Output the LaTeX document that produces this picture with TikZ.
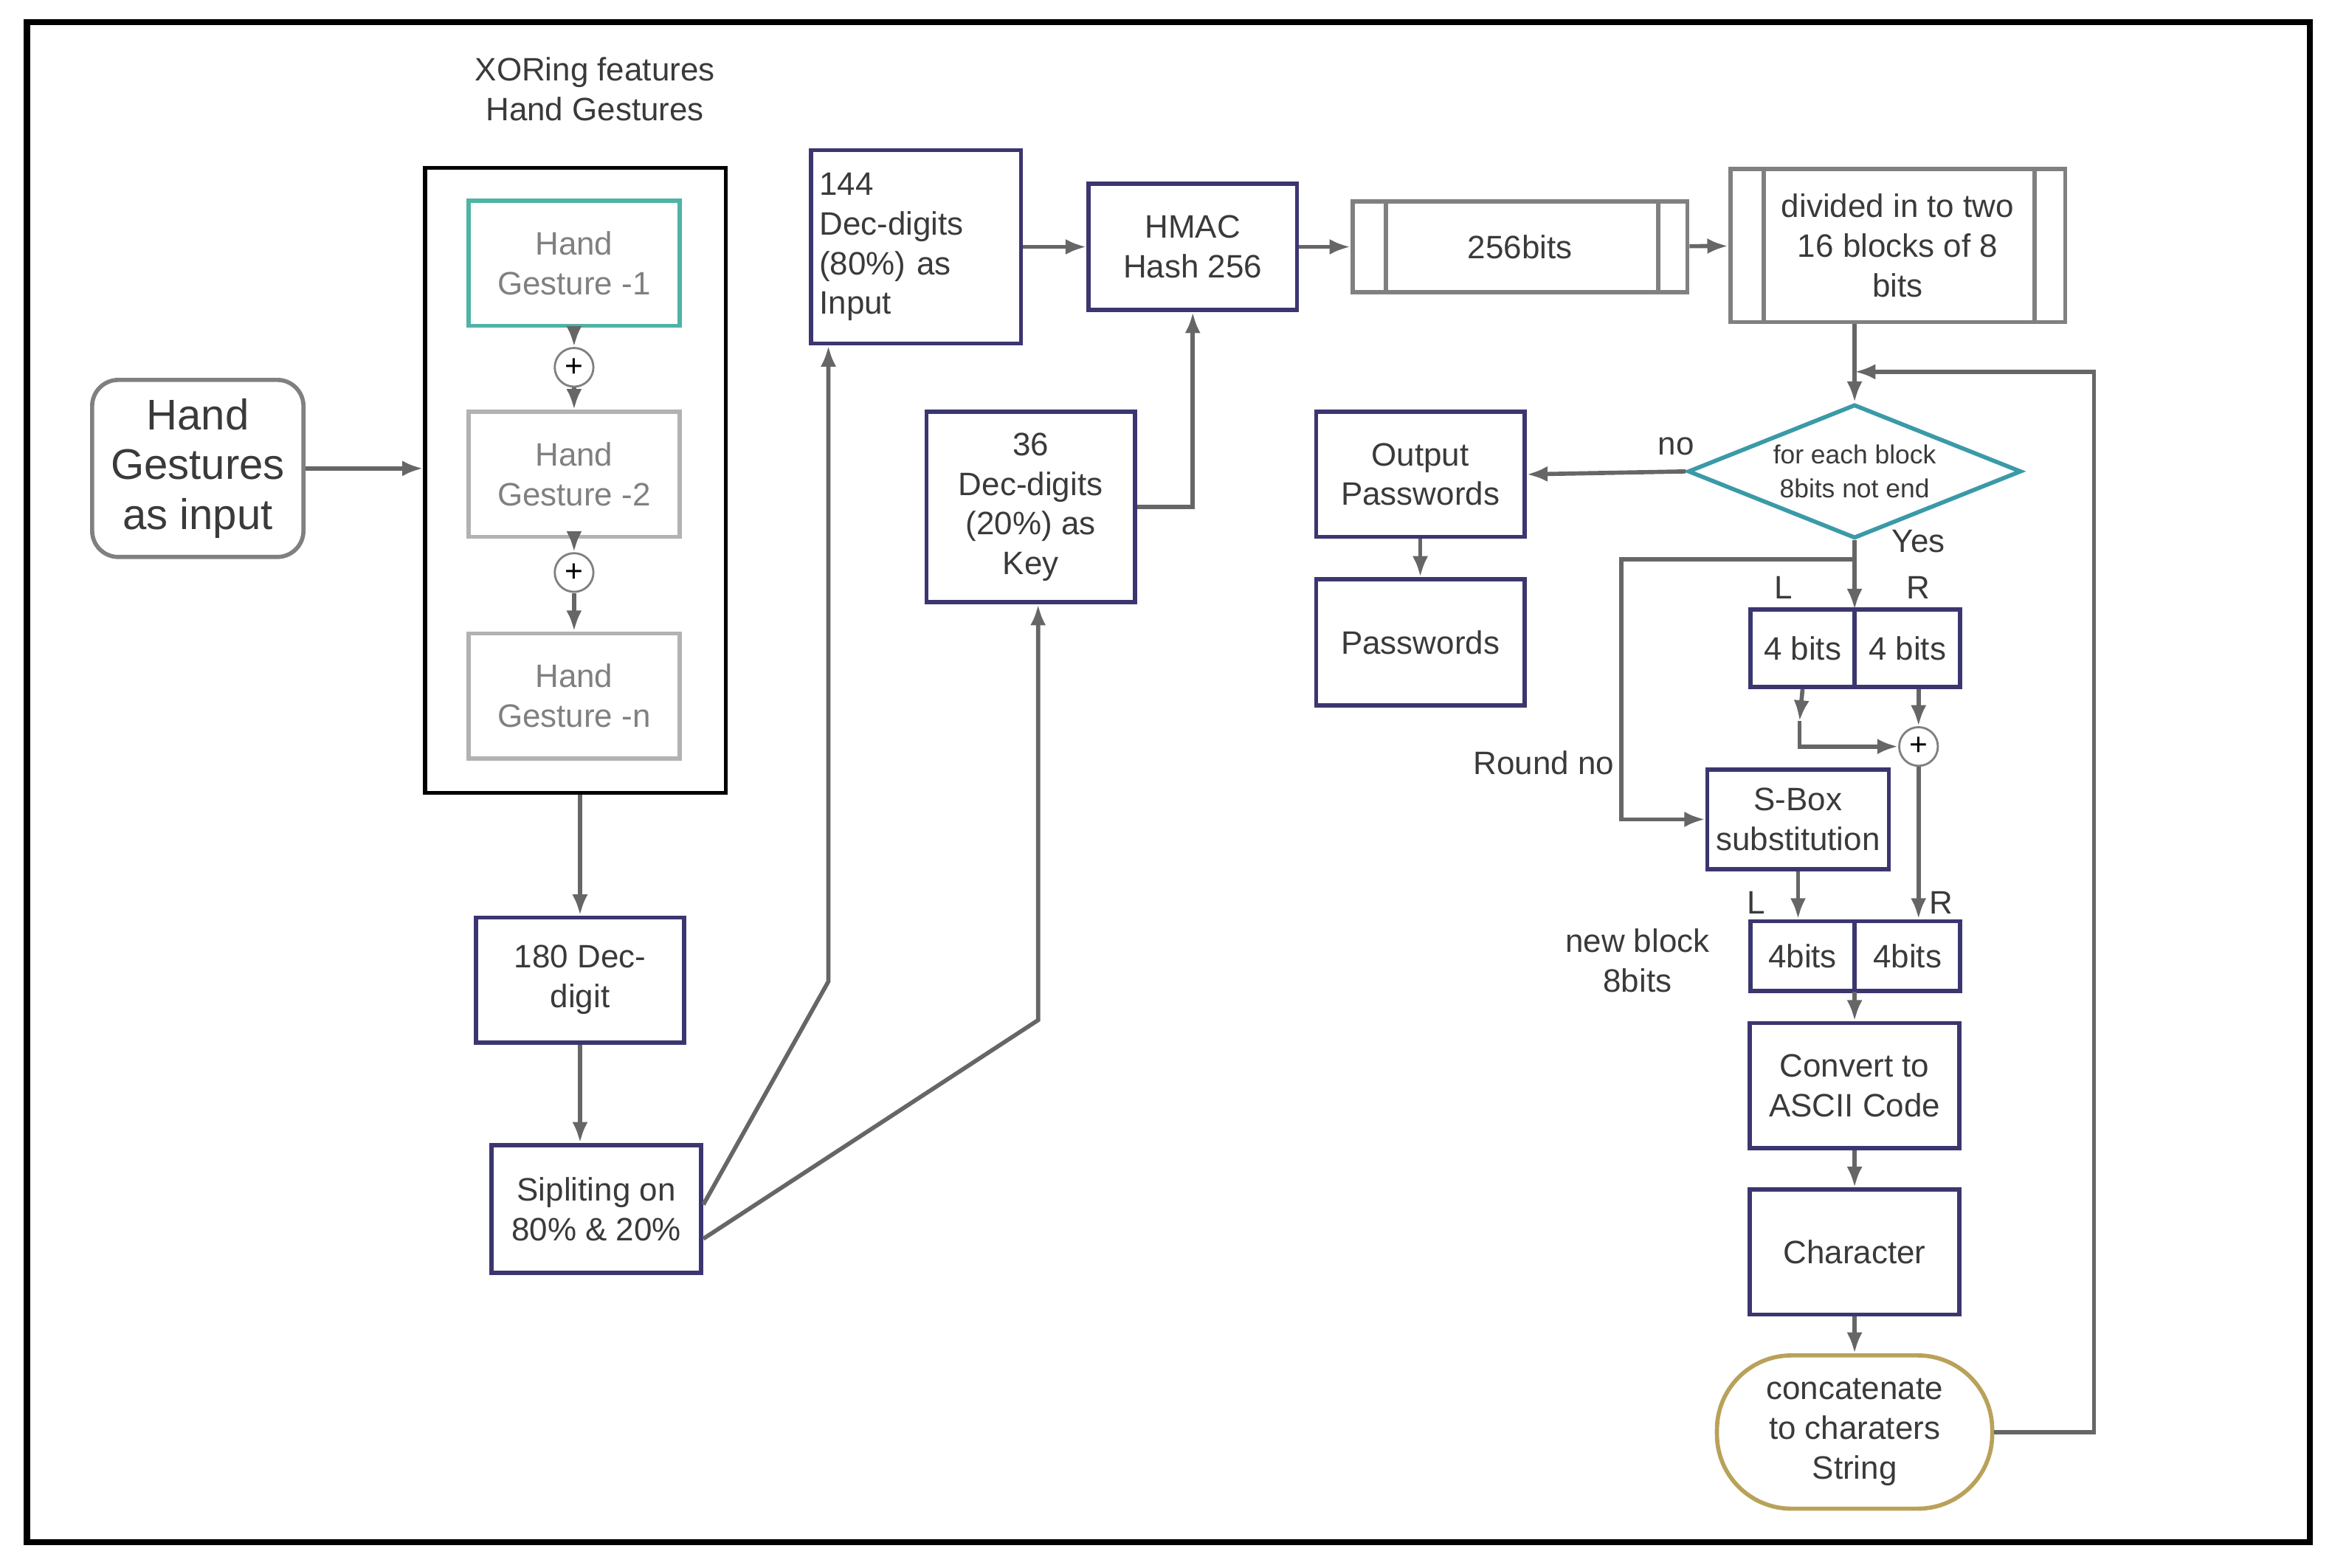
\documentclass[tikz,border=0pt]{standalone}
\usepackage{fontspec}
\setmainfont{Liberation Sans}
\usetikzlibrary{arrows.meta}
\usetikzlibrary{calc}
\usetikzlibrary{shapes.geometric}
\definecolor{boxc}{HTML}{3B3670}
\definecolor{txtc}{HTML}{3A3A3A}
\definecolor{teal}{HTML}{4FB3A6}
\definecolor{olive}{HTML}{B8A25A}
\definecolor{diac}{HTML}{3A9AA8}
\tikzset{
  blk/.style={draw=boxc,thick,rectangle,inner sep=0pt,align=center,text=txtc,font=\fontsize{6.2}{7.6}\selectfont},
  hg/.style={draw=gray!60,thick,rectangle,minimum width=1.42cm,minimum height=0.84cm,align=center,text=gray,font=\fontsize{6.2}{7.6}\selectfont},
  xorc/.style={draw=gray,circle,minimum size=0.26cm,inner sep=0pt,font=\fontsize{6}{6}\selectfont},
  lbl/.style={text=txtc,align=center,font=\fontsize{6.2}{7.6}\selectfont},
  con/.style={draw=gray!80!black,thick,-{Latex[length=4pt,width=3pt]}},
}
\begin{document}
\begin{tikzpicture}[x=0.01cm,y=-0.01cm]
	\useasboundingbox (0,0) rectangle (1568,1054);
	\draw[line width=1.2pt] (18,15) rectangle (1553,1037);
	\node [lbl] (title) at (400,60) {XORing features\\Hand Gestures};
	\node [draw=gray,thick,rounded corners=5pt,minimum width=1.42cm,minimum height=1.19cm,align=center,text=txtc,font=\fontsize{8.2}{9.5}\selectfont] (input) at (133,315) {Hand\\Gestures\\as input};
	\node [draw=black,thick,minimum width=2.02cm,minimum height=4.2cm] (group) at (387,323) {};
	\node [hg,draw=teal] (hg1) at (386,177) {Hand\\Gesture -1};
	\node [xorc] (x1) at (386,247) {+};
	\node [hg] (hg2) at (386,319) {Hand\\Gesture -2};
	\node [xorc] (x2) at (386,385) {+};
	\node [hg] (hgn) at (386,468) {Hand\\Gesture -n};
	\node [blk,minimum width=1.4cm,minimum height=0.84cm] (dec) at (390,659) {180 Dec-\\digit};
	\node [blk,minimum width=1.41cm,minimum height=0.86cm] (split) at (401,813) {Sipliting on\\80\% \& 20\%};
	\node [blk,minimum width=1.41cm,minimum height=1.3cm,align=left,text width=1.3cm] (inp) at (616,166) {144\\Dec-digits\\(80\%) as\\Input};
	\node [blk,minimum width=1.4cm,minimum height=0.85cm] (hmac) at (802,166) {HMAC\\Hash 256};
	\node [blk,minimum width=1.4cm,minimum height=1.28cm] (key) at (693,341) {36\\Dec-digits\\(20\%) as\\Key};
	\node [draw=gray,thick,minimum width=2.25cm,minimum height=0.61cm,align=center,text=txtc,font=\fontsize{6.2}{7.6}\selectfont] (bits) at (1022,166) {256bits};
	\draw[gray,thick] (932,135) -- (932,196) (1115,135) -- (1115,196);
	\node [draw=gray,thick,minimum width=2.25cm,minimum height=1.03cm,align=center,text=txtc,font=\fontsize{6.2}{7.6}\selectfont] (div) at (1276,165) {divided in to two\\16 blocks of 8\\bits};
	\draw[gray,thick] (1186,114) -- (1186,217) (1368,114) -- (1368,217);
	\node [diamond,draw=diac,thick,aspect=2.5,minimum width=2.24cm,minimum height=0.9cm,inner sep=0pt,align=center,text=txtc,font=\fontsize{5}{6.4}\selectfont] (dia) at (1247,317) {for each block\\8bits not end};
	\node [blk,minimum width=1.4cm,minimum height=0.84cm] (outp) at (955,319) {Output\\Passwords};
	\node [blk,minimum width=1.4cm,minimum height=0.85cm] (pwd) at (955,432) {Passwords};
	\node [blk,minimum width=0.7cm,minimum height=0.52cm] (bl) at (1212,436) {4 bits};
	\node [blk,minimum width=0.71cm,minimum height=0.52cm] (br) at (1282.5,436) {4 bits};
	\node [xorc] (x3) at (1290,502) {+};
	\node [blk,minimum width=1.22cm,minimum height=0.67cm] (sbox) at (1209,551) {S-Box\\substitution};
	\node [blk,minimum width=0.7cm,minimum height=0.47cm] (nl) at (1212,643) {4bits};
	\node [blk,minimum width=0.71cm,minimum height=0.47cm] (nr) at (1282.5,643) {4bits};
	\node [blk,minimum width=1.41cm,minimum height=0.84cm] (conv) at (1247,730) {Convert to\\ASCII Code};
	\node [blk,minimum width=1.41cm,minimum height=0.84cm] (chr) at (1247,842) {Character};
	\node [draw=olive,thick,rounded corners=0.5cm,minimum width=1.85cm,minimum height=1.03cm,align=center,text=txtc,font=\fontsize{6.2}{7.6}\selectfont] (cat) at (1247,963) {concatenate\\to charaters\\String};
	\coordinate (lp) at (1408,250);
	\coordinate (rn) at (1090,376);
	% labels
	\node [lbl] at (1127,300) {no};
	\node [lbl] at (1290,364) {Yes};
	\node [lbl] at (1199,395) {L};
	\node [lbl] at (1290,395) {R};
	\node [lbl] at (1038,513) {Round no};
	\node [lbl] at (1181,607) {L};
	\node [lbl] at (1305,607) {R};
	\node [lbl] at (1101,646) {new block\\8bits};
	% connectors
	\draw [con] (input.east) -- (group.west |- input.east);
	\draw [con] (hg1) -- (x1);
	\draw [con] (x1) -- (hg2);
	\draw [con] (hg2) -- (x2);
	\draw [con] (x2) -- (hgn);
	\draw [con] (group.south -| dec) -- (dec);
	\draw [con] (dec) -- (split.north -| dec);
	\draw [con] ($(split.east)+(0,-3)$) -- (557,660) -- (inp.south -| 557,0);
	\draw [con] ($(split.east)+(0,20)$) -- (698,686) -- (key.south -| 698,0);
	\draw [con] (inp) -- (hmac);
	\draw [con] (key.east) -- (802,341) -- (hmac.south);
	\draw [con] (hmac) -- (bits);
	\draw [con] (bits) -- (div);
	\draw [con] (div.south -| dia) -- (dia.north);
	\draw [con] (cat.east) -| (lp) -- (1247,250);
	\draw [con] (dia.west) -- (outp.east);
	\draw [con] (outp) -- (pwd);
	\draw [con] (dia.south) -- (1247,410);
	\draw [con] (1247,376) -- (rn) |- (sbox.west);
	\draw [con] (bl.south) -- (1210,485);
	\draw [con] (1210,485) |- (x3.west);
	\draw [con] (br.south -| x3) -- (x3.north);
	\draw [con] (x3.south) -- (nr.north -| x3);
	\draw [con] (sbox.south) -- (nl.north -| sbox);
	\draw [con] (1247,667) -- (conv.north);
	\draw [con] (conv) -- (chr);
	\draw [con] (chr) -- (cat);
\end{tikzpicture}
\end{document}
